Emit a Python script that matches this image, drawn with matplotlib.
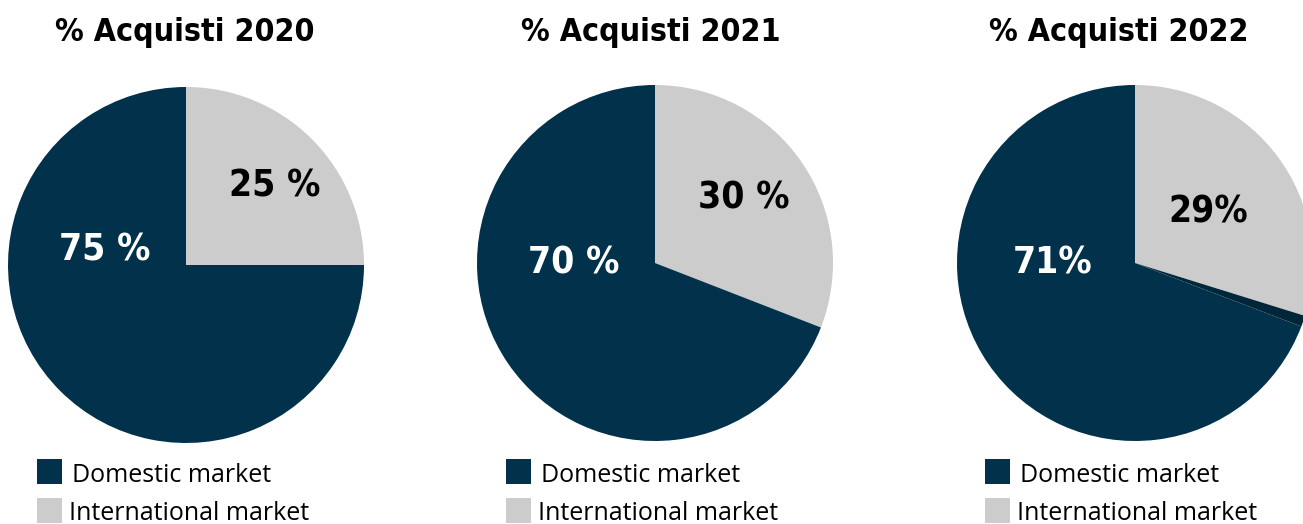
import matplotlib.pyplot as plt
from matplotlib.patches import Rectangle
from matplotlib import font_manager

# values
titles = ['% Acquisti 2020', '% Acquisti 2021', '% Acquisti 2022']
international = [25, 30.9, 29.8]
shade = [0, 0, 1.0]          # thin darker sliver seen in the 2022 pie
domestic = [75, 69.1, 69.2]
label_intl = ['25 %', '30 %', '29%']
label_dom = ['75 %', '70 %', '71%']
legend_labels = ['Domestic market', 'International market']

NAVY = '#01314b'
GREY = '#cccccc'
SHADE = '#00263a'

W, H = 1303, 524


def find_bold_narrow():
    """Pick a narrow bold face if one is installed."""
    files = [f.fname for f in font_manager.fontManager.ttflist]
    for key in ['LiberationSansNarrow-Bold.', 'DejaVuSansCondensed-Bold.',
                'Condensed-Bold', 'Narrow-Bold']:
        for fn in files:
            if key in fn and 'Italic' not in fn and 'Oblique' not in fn:
                return fn
    return None


narrow = find_bold_narrow()
scale = 1.0 if narrow and 'Liberation' in narrow else 0.92


def bold(size):
    if narrow:
        return font_manager.FontProperties(fname=narrow, size=size * scale)
    return font_manager.FontProperties(family='DejaVu Sans', weight='bold', size=size * 0.75)


text_font = ['Open Sans', 'DejaVu Sans']

fig = plt.figure(figsize=(W / 100, H / 100), dpi=100)
ax = fig.add_axes([0, 0, 1, 1])

# layout in pixels (y measured from top)
centers = [(186, 265), (655, 263), (1135, 263)]
radius = 178
title_x = [185, 651, 1119]
intl_pos = [(275, 186), (744, 198), (1208, 212)]
dom_pos = [(105, 250), (574, 263), (1053, 263)]
legend_x = [37, 506, 985]


def py(y):
    return H - y


for i in range(3):
    cx, cy = centers[i]
    vals = [international[i], shade[i], domestic[i]]
    cols = [GREY, SHADE, NAVY]
    keep = [k for k, v in enumerate(vals) if v > 0]
    ax.pie([vals[k] for k in keep], colors=[cols[k] for k in keep],
           startangle=90, counterclock=False, center=(cx, py(cy)),
           radius=radius, frame=True, wedgeprops=dict(linewidth=0))

    ax.text(title_x[i], py(32), titles[i], ha='center', va='center',
            fontproperties=bold(25), color='black')
    ax.text(intl_pos[i][0], py(intl_pos[i][1]), label_intl[i], ha='center', va='center',
            fontproperties=bold(29), color='black')
    ax.text(dom_pos[i][0], py(dom_pos[i][1]), label_dom[i], ha='center', va='center',
            fontproperties=bold(29), color='white')

    lx = legend_x[i]
    for j, (lab, col) in enumerate(zip(legend_labels, [NAVY, GREY])):
        top = 459 + j * 39
        ax.add_patch(Rectangle((lx, py(top + 25)), 25, 25, facecolor=col, linewidth=0))
        ax.text(lx + 35 - j * 3, py(top + 16), lab, ha='left', va='center',
                fontsize=18, family=text_font, color='black')

ax.set_xlim(0, W)
ax.set_ylim(0, H)
ax.set_aspect('auto')
ax.axis('off')

fig.savefig('out.png', dpi=100, facecolor='white')
